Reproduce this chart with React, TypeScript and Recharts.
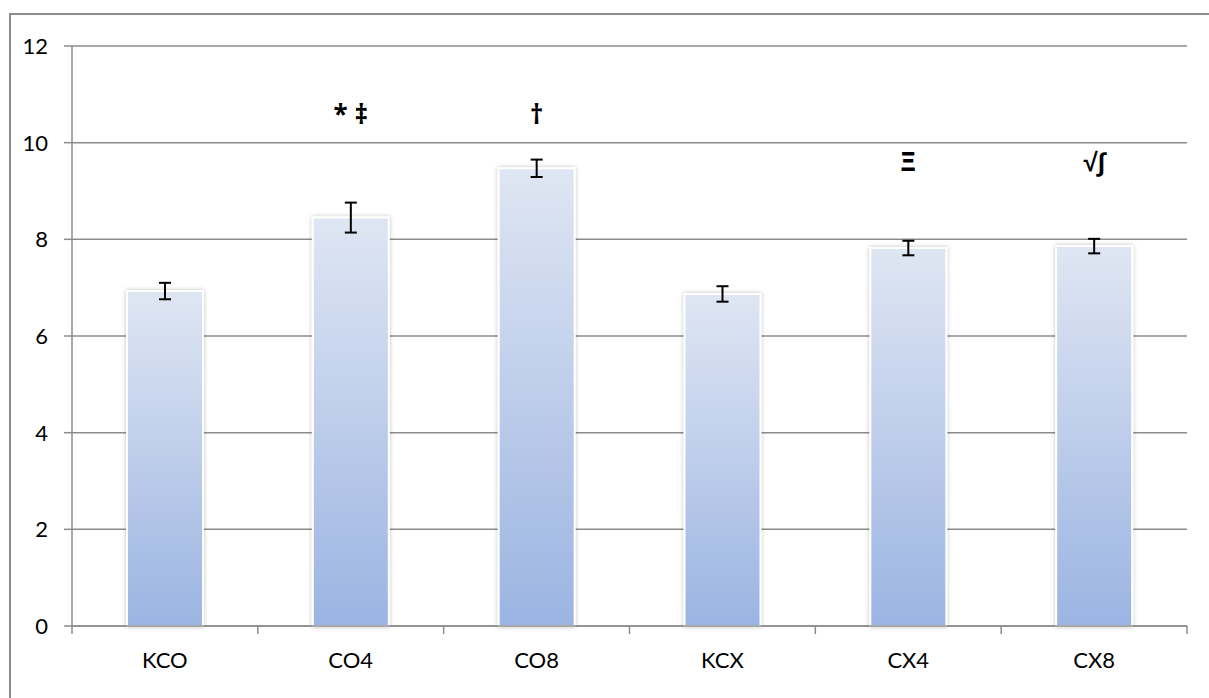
import React from 'react';
import { BarChart, Bar, XAxis, YAxis, CartesianGrid, ErrorBar, ReferenceDot } from 'recharts';

const groups = ['KCO', 'CO4', 'CO8', 'KCX', 'CX4', 'CX8'];
const means = [6.93, 8.45, 9.47, 6.87, 7.82, 7.86];
const errors = [0.17, 0.31, 0.18, 0.16, 0.15, 0.15];
const yTicks = [0, 2, 4, 6, 8, 10, 12];

// significance marks drawn above some of the bars
const markGroups = ['CO4', 'CO8', 'CX4', 'CX8'];
const markTexts = ['*  \u2021', '\u2020', '\u039E', '\u221A\u222B'];
const markLevels = [10.58, 10.58, 9.6, 9.6];

const data = groups.map((g, i) => ({ name: g, value: means[i], err: errors[i] }));

const gray = '#8c8c8c';
const font = 'Lato, "Open Sans", sans-serif';

// category label plus tick marks on the category edges (Excel style)
const CatTick = (props: any) => {
  const { x, y, payload, index, width, visibleTicksCount } = props;
  const band = width / visibleTicksCount;
  return (
    <g>
      <line x1={x - band / 2} x2={x - band / 2} y1={y} y2={y + 8} stroke={gray} strokeWidth={1.5} />
      {index === visibleTicksCount - 1 && (
        <line x1={x + band / 2} x2={x + band / 2} y1={y} y2={y + 8} stroke={gray} strokeWidth={1.5} />
      )}
      <text x={x} y={y + 42} textAnchor="middle" fill="#000" style={{ fontSize: 22, fontFamily: font }}>
        {payload.value}
      </text>
    </g>
  );
};

const ValTick = (props: any) => {
  const { x, y, payload } = props;
  return (
    <text x={x} y={y + 8} textAnchor="end" fill="#000" style={{ fontSize: 22, fontFamily: font }}>
      {payload.value}
    </text>
  );
};

export default function App() {
  return (
    <div style={{ position: 'fixed', left: 0, top: 0, width: 1209, height: 698, background: '#fff', overflow: 'hidden' }}>
      <div
        style={{
          position: 'absolute',
          left: 9,
          top: 13,
          width: 1400,
          height: 900,
          borderLeft: `2px solid ${gray}`,
          borderTop: `2px solid ${gray}`,
        }}
      />
      <div style={{ position: 'absolute', left: 0, top: 0 }}>
        <BarChart
          width={1209}
          height={698}
          data={data}
          margin={{ top: 46, right: 22, bottom: 32, left: 10 }}
          barSize={76}
        >
          <defs>
            <linearGradient id="barFill" x1="0" y1="0" x2="0" y2="1">
              <stop offset="0%" stopColor="#dfe6f3" />
              <stop offset="100%" stopColor="#9bb4e2" />
            </linearGradient>
            <filter id="barShadow" x="-20%" y="-5%" width="140%" height="110%">
              <feDropShadow dx="0" dy="0" stdDeviation="2" floodColor="#000" floodOpacity="0.25" />
            </filter>
          </defs>
          <CartesianGrid vertical={false} stroke={gray} strokeWidth={1.5} />
          <XAxis
            dataKey="name"
            axisLine={{ stroke: gray, strokeWidth: 1.5 }}
            tickLine={false}
            tickSize={0}
            tickMargin={0}
            height={40}
            interval={0}
            tick={<CatTick />}
          />
          <YAxis
            domain={[0, 12]}
            ticks={yTicks}
            width={62}
            axisLine={{ stroke: gray, strokeWidth: 1.5 }}
            tickLine={{ stroke: gray, strokeWidth: 1.5 }}
            tickSize={8}
            tickMargin={16}
            tick={<ValTick />}
          />
          <Bar
            dataKey="value"
            fill="url(#barFill)"
            stroke="#fff"
            strokeWidth={2}
            filter="url(#barShadow)"
            isAnimationActive={false}
          >
            <ErrorBar dataKey="err" width={6} stroke="#000" strokeWidth={2} direction="y" />
          </Bar>
          {markGroups.map((g, i) => (
            <ReferenceDot
              key={g}
              x={g}
              y={markLevels[i]}
              r={0}
              fill="none"
              stroke="none"
              label={{
                value: markTexts[i],
                position: 'center',
                fill: '#000',
                fontSize: 26,
                fontWeight: 'bold',
                fontFamily: '"Noto Sans", sans-serif',
              }}
            />
          ))}
        </BarChart>
      </div>
    </div>
  );
}
